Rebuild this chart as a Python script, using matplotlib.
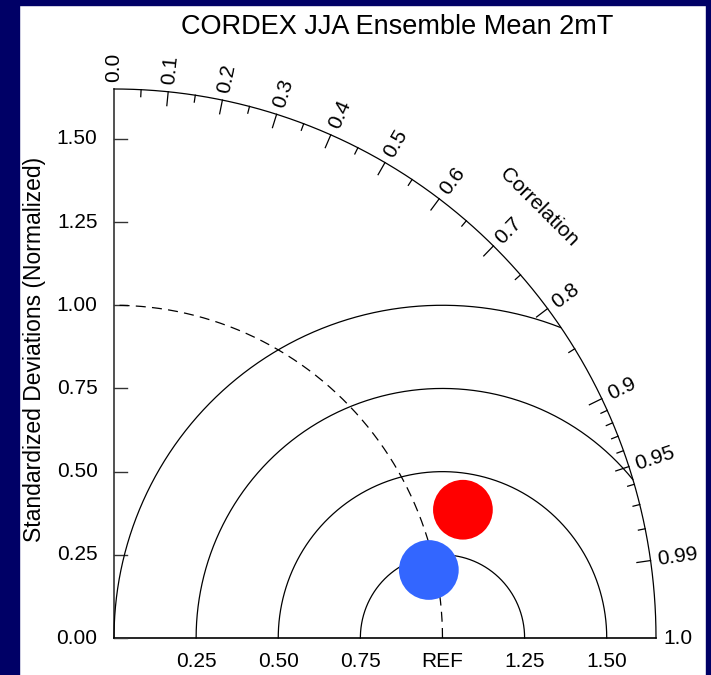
import numpy as np
import matplotlib
matplotlib.use("Agg")
import matplotlib.pyplot as plt
from matplotlib.patches import Rectangle

plt.rcParams['font.family'] = ['Liberation Sans', 'DejaVu Sans']

# model results: normalized std dev and correlation with the reference
models = ['CORDEX ensemble A', 'CORDEX ensemble B']
std_ratio = [1.13, 0.98]
correlation = [0.940, 0.978]
marker_colors = ['#ff0000', '#3366ff']

std_ticks = [0.0, 0.25, 0.50, 0.75, 1.00, 1.25, 1.50]
x_labels = ['0.25', '0.50', '0.75', 'REF', '1.25', '1.50']
x_label_pos = [0.25, 0.50, 0.75, 1.00, 1.25, 1.50]
corr_major = [0.0, 0.1, 0.2, 0.3, 0.4, 0.5, 0.6, 0.7, 0.8, 0.9, 0.95, 0.99, 1.0]
corr_minor = [0.05, 0.15, 0.25, 0.35, 0.45, 0.55, 0.65, 0.75, 0.85,
              0.91, 0.92, 0.93, 0.94, 0.96, 0.97, 0.98]
rms_radii = [0.25, 0.50, 0.75, 1.00]
rmax = 1.65

fig = plt.figure(figsize=(7.11, 6.75), dpi=100)
W, H = 711, 675

# dark frame around the plot
navy = '#000066'
fig.patches.append(Rectangle((0, 0), 19 / W, 1, transform=fig.transFigure, color=navy, zorder=0))
fig.patches.append(Rectangle((0, 1 - 5 / H), 1, 5 / H, transform=fig.transFigure, color=navy, zorder=0))
fig.patches.append(Rectangle((706 / W, 0), 5 / W, 1, transform=fig.transFigure, color=navy, zorder=0))

ax = fig.add_axes([114 / W, (H - 638) / H, 542 / W, 549 / H])
ax.set_xlim(0, rmax)
ax.set_ylim(0, rmax)
ax.axis('off')

lw = 0.9
fs = 15

# axes lines and outer arc
ax.plot([0, 0], [0, rmax], color='#333333', lw=1.2, clip_on=False)
ax.plot([0, rmax], [0, 0], color='black', lw=1.2, clip_on=False)
t = np.linspace(0, np.pi / 2, 400)
ax.plot(rmax * np.cos(t), rmax * np.sin(t), color='black', lw=lw, clip_on=False)

# std dev ticks on the y axis
for v in std_ticks:
    ax.plot([0, 0.04], [v, v], color='#333333', lw=1.0, clip_on=False)
    ax.text(-0.05, v, '%.2f' % v, ha='right', va='center', fontsize=fs)
for v, lab in zip(x_label_pos, x_labels):
    ax.text(v, -0.072, lab, ha='center', va='center', fontsize=fs)

# reference std dev arc
ax.plot(np.cos(t), np.sin(t), color='black', lw=lw, ls=(0, (8, 5)), clip_on=False)

# centred RMS difference arcs around REF
tt = np.linspace(0, np.pi, 800)
for r in rms_radii:
    xs = 1 + r * np.cos(tt)
    ys = r * np.sin(tt)
    keep = (xs ** 2 + ys ** 2) <= rmax ** 2 + 1e-9
    ax.plot(xs[keep], ys[keep], color='black', lw=lw, clip_on=False)

# correlation ticks and labels
for c in corr_major:
    a = np.arccos(c)
    if 0 < c < 1:
        ax.plot([rmax * np.cos(a), (rmax - 0.042) * np.cos(a)],
                [rmax * np.sin(a), (rmax - 0.042) * np.sin(a)], color='black', lw=lw)
    ax.text(1.672 * np.cos(a), 1.672 * np.sin(a), '%.2g' % c if c not in (0.0, 1.0) else '%.1f' % c,
            rotation=np.degrees(a), rotation_mode='anchor', ha='left', va='center', fontsize=fs)
for c in corr_minor:
    a = np.arccos(c)
    ax.plot([rmax * np.cos(a), (rmax - 0.021) * np.cos(a)],
            [rmax * np.sin(a), (rmax - 0.021) * np.sin(a)], color='black', lw=lw)
ax.text(1.83 * np.cos(np.pi / 4), 1.83 * np.sin(np.pi / 4), 'Correlation', rotation=-45,
        rotation_mode='anchor', ha='center', va='center', fontsize=fs)

# model markers
for s, c, col in zip(std_ratio, correlation, marker_colors):
    a = np.arccos(c)
    ax.scatter(s * np.cos(a), s * np.sin(a), s=1850, color=col, edgecolors='none', zorder=5)

fig.text(397 / W, 1 - 27 / H, 'CORDEX JJA Ensemble Mean 2mT', ha='center', va='center', fontsize=19.5)
fig.text(35 / W, 1 - 349 / H, 'Standardized Deviations (Normalized)', rotation=90,
         ha='center', va='center', fontsize=16.5)

fig.savefig('out.png', dpi=100)
